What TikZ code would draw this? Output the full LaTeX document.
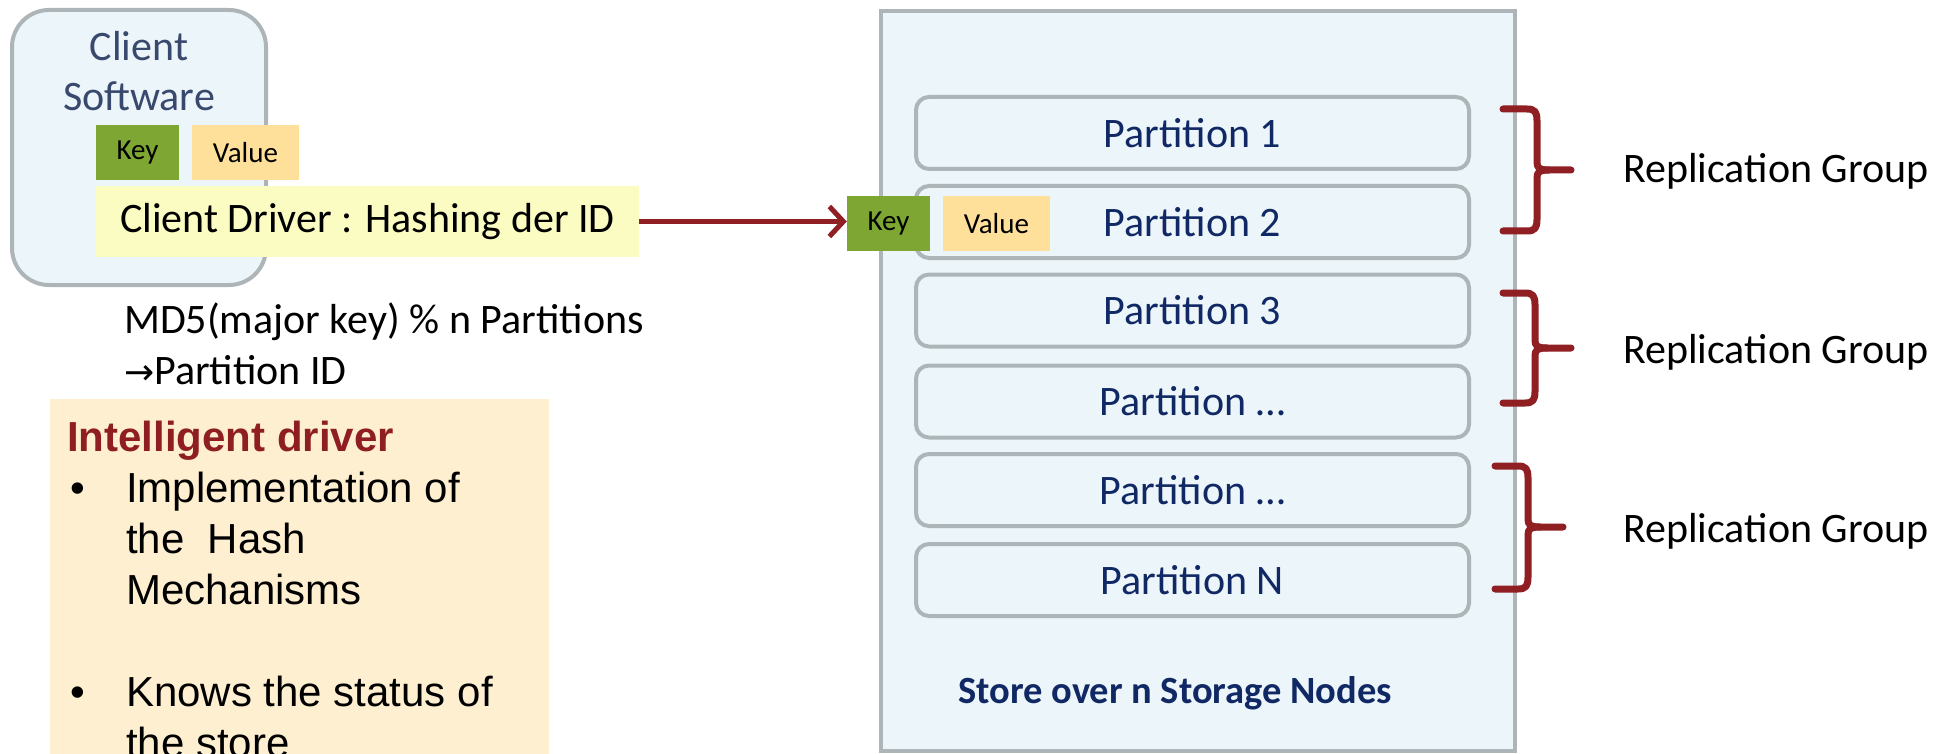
\documentclass[tikz,border=0pt]{standalone}
\usepackage{fontspec}
\setmainfont{Carlito}
\newfontfamily\arialf{Liberation Sans}
\newfontfamily\symf{DejaVu Sans}
\usetikzlibrary{arrows.meta}
\definecolor{boxfill}{RGB}{236,245,249}
\definecolor{boxline}{RGB}{173,181,184}
\definecolor{clienttext}{RGB}{57,73,110}
\definecolor{keygreen}{RGB}{126,166,50}
\definecolor{valueor}{RGB}{254,224,154}
\definecolor{driveryel}{RGB}{251,252,193}
\definecolor{arrred}{RGB}{143,31,35}
\definecolor{navy}{RGB}{16,40,100}
\definecolor{intelbg}{RGB}{254,239,209}
\definecolor{intelhead}{RGB}{143,30,35}
\newcommand\fsz[2]{\fontsize{#1}{#2}\selectfont}
\newcommand\bul{\makebox[59pt][l]{\hspace*{3pt}•}}
\newcommand\ind{\hspace*{59pt}}
\newcommand\repbrace[6]{%
  \draw[bracestyle] (#1,#4) -- ({#2-10},#4) .. controls ({#2-2},#4) and (#2,{#4+3}) .. (#2,{#4+12})
     -- (#2,{#5-8}) .. controls (#2,{#5-2}) and ({#2+2},#5) .. ({#2+12},#5) -- (#3,#5);
  \draw[bracestyle] (#1,#6) -- ({#2-10},#6) .. controls ({#2-2},#6) and (#2,{#6-3}) .. (#2,{#6-12})
     -- (#2,{#5+8}) .. controls (#2,{#5+2}) and ({#2+2},#5) .. ({#2+12},#5);
}
\begin{document}
\begin{tikzpicture}[x=1pt,y=-1pt,
  graybox/.style={draw=boxline, line width=4pt, fill=boxfill, inner sep=0pt},
  part/.style={graybox, rounded corners=13pt, minimum width=553pt, minimum height=72pt,
     text=navy, font=\fsz{42}{50}},
  keybox/.style={fill=keygreen, minimum width=83pt, minimum height=55pt, inner sep=0pt,
     font=\fsz{29}{34}},
  valbox/.style={fill=valueor, minimum width=107pt, minimum height=55pt, inner sep=0pt,
     font=\fsz{29}{34}},
  bracestyle/.style={draw=arrred, line width=7pt, line cap=round, line join=round},
  conn/.style={draw=arrred, line width=5pt, -{Straight Barb[length=14pt,width=30pt]}},
  plain/.style={inner sep=0pt, font=\fsz{42}{50}}
]
\useasboundingbox (0,0) rectangle (1949,754);
\clip (0,0) rectangle (1949,754);

% client software
\node[graybox, rounded corners=37pt, minimum width=254pt, minimum height=275pt] (client) at (139,147.5) {};
\node[plain, text=clienttext, align=center, anchor=base] (clienttxt) at (139,111) {Client\\Software};
\node[keybox] (ckey) at (137.5,152.5) {Key};
\node[valbox] (cval) at (245.5,152.5) {Value};
\node[fill=driveryel, minimum width=543pt, minimum height=71pt, inner sep=0pt, font=\fsz{42}{50}] (driver) at (367.5,221.5) {Client Driver : Hashing der ID};

% hash formula
\node[plain, align=left, anchor=base west, font=\fsz{42}{51}] (md5) at (124,384) {MD5(major key) \% n Partitions\\{\symf\fsz{36}{51}→}Partition ID};

% intelligent driver box
\node[fill=intelbg, minimum width=499pt, minimum height=420pt, inner sep=0pt, anchor=north west] (intel) at (50,399) {};
\node[inner sep=0pt, align=left, anchor=base west, font=\arialf\fsz{42}{51}] (inteltxt) at (67,757)
  {{\bfseries\color{intelhead}Intelligent driver}\\
   \bul Implementation of\\
   \ind the~ Hash\\
   \ind Mechanisms\\
   \mbox{}\\
   \bul Knows the status of\\
   \ind the store};

% store
\node[graybox, minimum width=634pt, minimum height=740pt] (store) at (1198,381) {};
\node[part] (p1) at (1192.5,133) {Partition 1};
\node[part] (p2) at (1192.5,222) {Partition 2};
\node[part] (p3) at (1192.5,310.5) {Partition 3};
\node[part] (p4) at (1192.5,401.5) {Partition …};
\node[part] (p5) at (1192.5,490) {Partition …};
\node[part] (pn) at (1192.5,580) {Partition N};
\node[inner sep=0pt, anchor=base west, text=navy, font=\bfseries\fsz{38.5}{46}] (storetxt) at (958,703) {Store over n Storage Nodes};
\node[keybox] (skey) at (888.5,223.5) {Key};
\node[valbox] (sval) at (996.5,223.5) {Value};

% connector
\draw[conn] (driver.east) -- (driver.east -| skey.west);

% replication groups
\repbrace{1503}{1537}{1571}{109}{170}{231}
\repbrace{1503}{1535}{1571}{293}{348}{403}
\repbrace{1495}{1528}{1563}{466}{527}{589}
\node[plain, anchor=base west] (rg1) at (1623,183) {Replication Group};
\node[plain, anchor=base west] (rg2) at (1623,363) {Replication Group};
\node[plain, anchor=base west] (rg3) at (1623,542) {Replication Group};
\end{tikzpicture}
\end{document}
